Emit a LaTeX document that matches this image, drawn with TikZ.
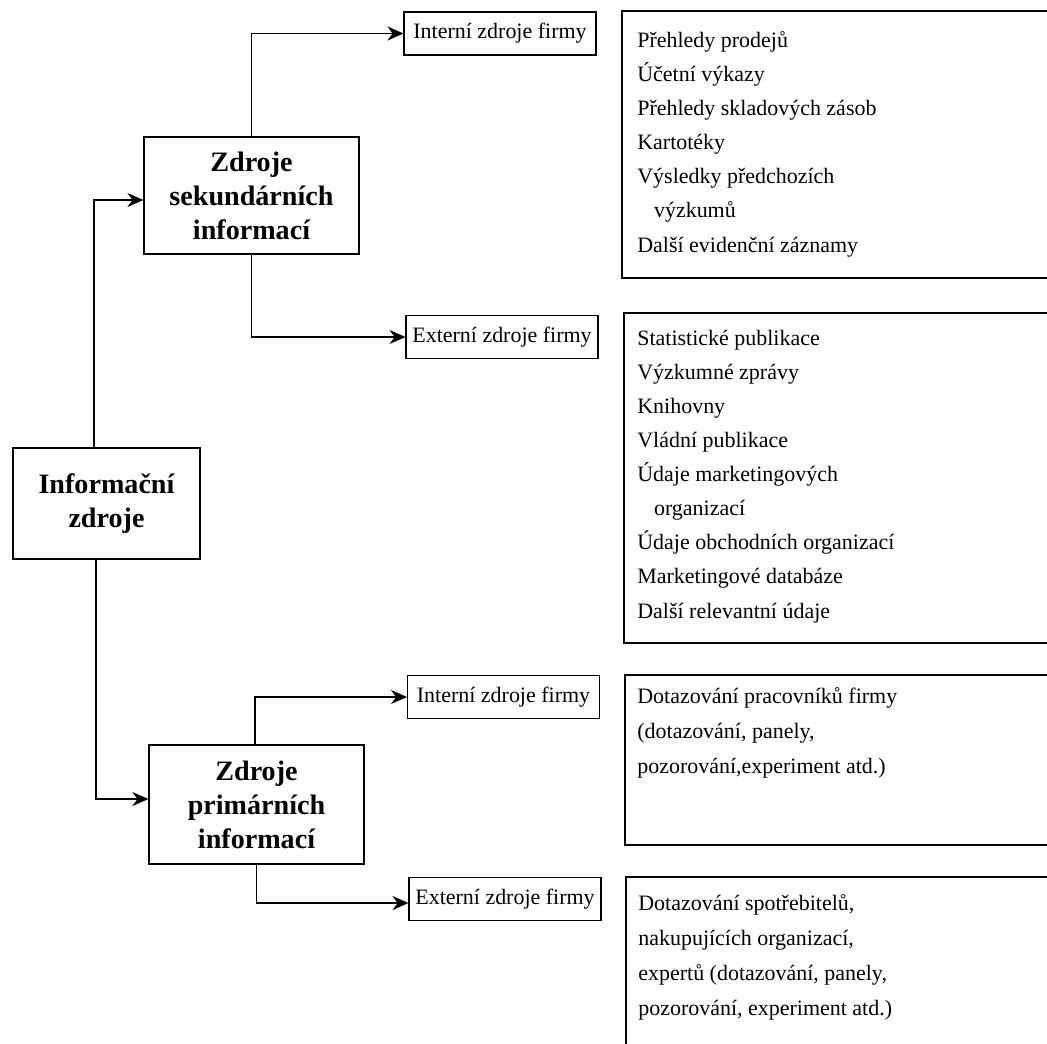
\documentclass[tikz,border=0pt]{standalone}
\usepackage{fontspec}
\setmainfont{Liberation Serif}
\usetikzlibrary{arrows.meta}
\tikzset{
    main/.style={draw, line width=0.7pt, align=center, inner sep=0pt,
        font=\fontsize{16}{19.4}\selectfont\bfseries},
    kind/.style={draw, line width=0.6pt, inner sep=0pt,
        minimum width=3.84cm, minimum height=0.86cm,
        font=\fontsize{12.5}{15}\selectfont},
    items/.style={align=left, anchor=base west, inner sep=0pt,
        font=\fontsize{12.5}{#1}\selectfont},
    items/.default=19.4,
    frame/.style={line width=0.6pt},
    link/.style={line width=0.6pt, -{Stealth[length=3.2mm,width=2.8mm]}}
}

\begin{document}
\begin{tikzpicture}
    % Fix the canvas
    \useasboundingbox (0,0) rectangle (20.94,-20.86);
    \clip (0,0) rectangle (20.94,-20.86);

    % Main boxes
    \node[main, minimum width=3.74cm, minimum height=2.22cm] (info) at (2.13,-10.07) {Informační\\zdroje};
    \node[main, minimum width=4.30cm, minimum height=2.34cm] (sek) at (5.03,-3.91) {Zdroje\\sekundárních\\informací};
    \node[main, minimum width=4.30cm, minimum height=2.38cm] (prim) at (5.13,-16.09) {Zdroje\\primárních\\informací};

    % Internal and external sources
    \node[kind] (sekint) at (10.00,-0.67) {Interní zdroje firmy};
    \node[kind] (sekext) at (10.04,-6.74) {Externí zdroje firmy};
    \node[kind] (primint) at (10.07,-13.94) {Interní zdroje firmy};
    \node[kind] (primext) at (10.10,-17.98) {Externí zdroje firmy};

    % Connectors
    \draw[link] ([xshift=-0.25cm]info.north) |- ([yshift=-0.09cm]sek.west);
    \draw[link] ([xshift=-0.21cm]info.south) |- ([yshift=0.11cm]prim.west);
    \draw[link] (sek.north) |- (sekint.west);
    \draw[link] (sek.south) |- (sekext.west);
    \draw[link] ([xshift=-0.03cm]prim.north) |- (primint.west);
    \draw[link] (prim.south) |- ([yshift=-0.08cm]primext.west);

    % Lists of items (placed at the baseline of their last line)
    \draw[frame] (12.44,-0.22) rectangle (21.2,-5.56);
    \node[items] (sekintlist) at (12.74,-5.04) {Přehledy prodejů\\Účetní výkazy\\Přehledy skladových zásob\\Kartotéky\\Výsledky předchozích\\\hspace*{9.5pt}výzkumů\\Další evidenční záznamy};

    \draw[frame] (12.48,-6.26) rectangle (21.2,-12.86);
    \node[items] (sekextlist) at (12.74,-12.36) {Statistické publikace\\Výzkumné zprávy\\Knihovny\\Vládní publikace\\Údaje marketingových\\\hspace*{9.5pt}organizací\\Údaje obchodních organizací\\Marketingové databáze\\Další relevantní údaje};

    \draw[frame] (12.50,-13.50) rectangle (21.2,-16.90);
    \node[items=19.9] (primintlist) at (12.74,-15.46) {Dotazování pracovníků firmy\\(dotazování, panely,\\pozorování,experiment atd.)};

    \draw[frame] (12.52,-17.54) rectangle (21.2,-21.2);
    \node[items=19.9] (primextlist) at (12.76,-20.30) {Dotazování spotřebitelů,\\nakupujících organizací,\\expertů (dotazování, panely,\\pozorování, experiment atd.)};
\end{tikzpicture}
\end{document}
